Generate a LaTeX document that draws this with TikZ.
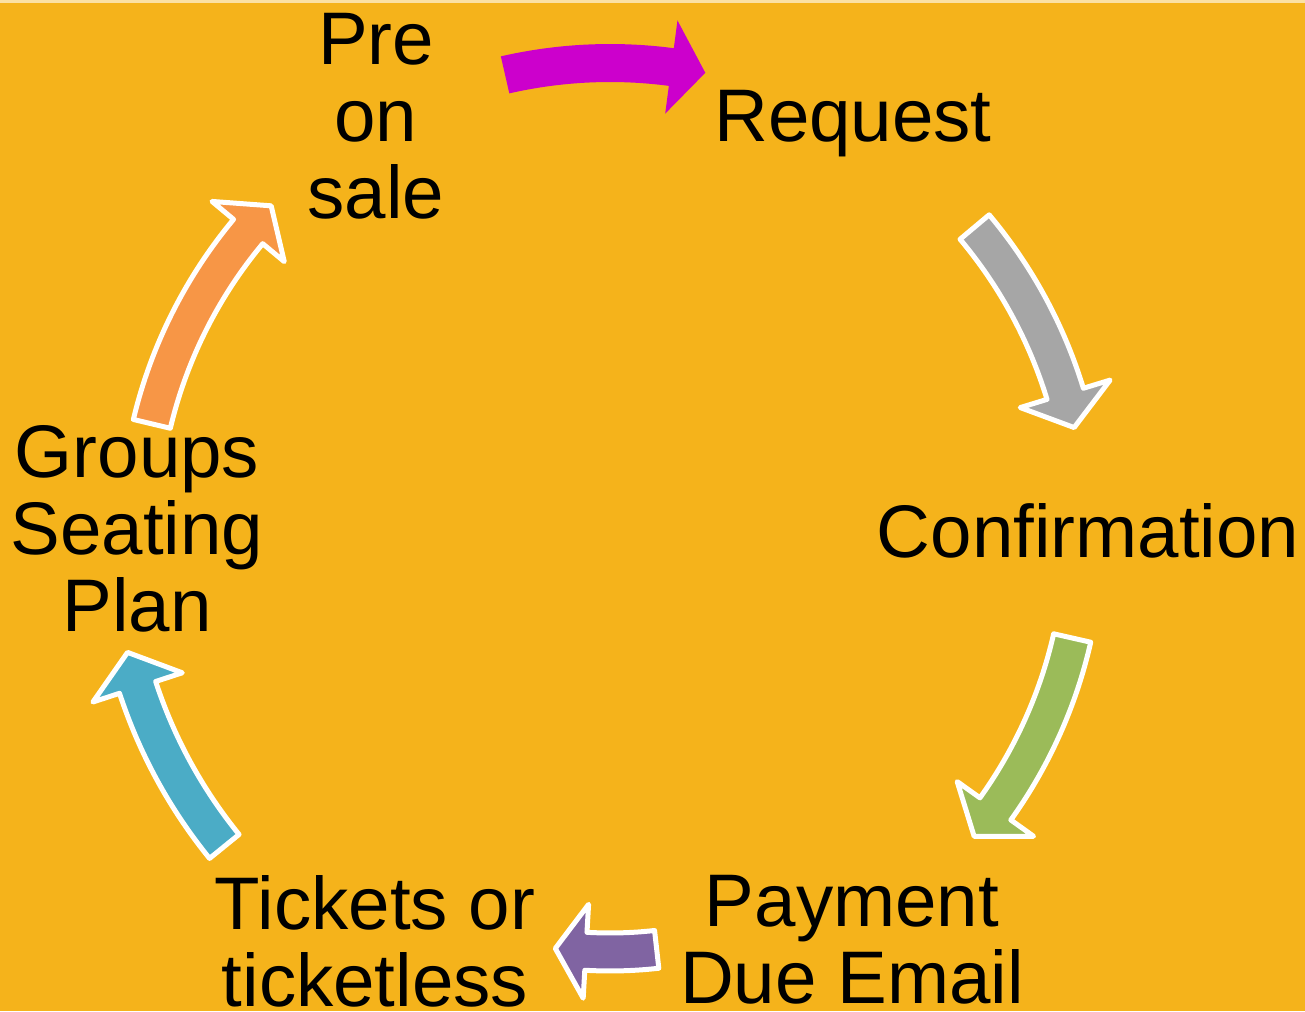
\documentclass[tikz,border=0pt]{standalone}
\usepackage{fontspec}
\setmainfont{Liberation Sans}

\definecolor{cyclebg}{HTML}{F5B31B}
\definecolor{arrowmagenta}{HTML}{CC00CC}
\definecolor{arrowgray}{HTML}{A6A6A6}
\definecolor{arrowgreen}{HTML}{9BBB59}
\definecolor{arrowpurple}{HTML}{8064A2}
\definecolor{arrowblue}{HTML}{4BACC6}
\definecolor{arroworange}{HTML}{F79646}

\tikzset{
    phase/.style={align=center, anchor=north, inner sep=0pt,
        font=\fontsize{21.2}{21.9}\selectfont},
    bordered/.style={draw=white, line width=0.5mm, line join=round}
}

% block arrow bent round the hub: style, tail angle, tip angle, radius
\newcommand{\cyclearrow}[4]{%
    \pgfmathsetmacro{\headang}{#3+4.2}
    \pgfmathsetmacro{\rout}{#4+19}
    \pgfmathsetmacro{\rin}{#4-19}
    \pgfmathsetmacro{\rbarbout}{#4+47}
    \pgfmathsetmacro{\rbarbin}{#4-47}
    \path[#1, shift={(hub)}]
        (#2:\rout) arc[start angle=#2, end angle=\headang, radius=\rout]
        -- (\headang:\rbarbout) -- (#3:#4) -- (\headang:\rbarbin)
        -- (\headang:\rin) arc[start angle=\headang, end angle=#2, radius=\rin]
        -- cycle;
}

\begin{document}
\begin{tikzpicture}[x=0.1mm, y=0.1mm]
    % Background
    \useasboundingbox (0,0) rectangle (1305,1011);
    \fill[cyclebg] (0,0) rectangle (1305,1011);
    \fill[cyclebg!40!white] (0,1008) rectangle (1305,1011);

    \coordinate (hub) at (610,478);

    % Steps of the cycle
    \node[phase] (presale) at (376,998) {Pre\\on\\sale};
    \node[phase] (request) at (853,921) {Request};
    \node[phase] (confirm) at (1088,508) {Confirmation};
    \node[phase] (payment) at (852,136) {Payment\\Due Email};
    \node[phase] (tickets) at (375,136) {Tickets or\\ticketless};
    \node[phase] (groups) at (137,586) {Groups\\Seating\\Plan};

    % Arrows between the steps
    \cyclearrow{fill=arrowmagenta}{102.9}{78.3}{470}
    \foreach \col/\tail/\tip/\rad in {arrowgray/40/12.8/476,
                                      arrowgreen/-12.8/-39.8/474,
                                      arrowpurple/-83.6/-97.5/419,
                                      arrowblue/-140.9/-166.1/497,
                                      arroworange/166.6/136/471} {
        \cyclearrow{bordered, fill=\col}{\tail}{\tip}{\rad}
    }
\end{tikzpicture}
\end{document}
